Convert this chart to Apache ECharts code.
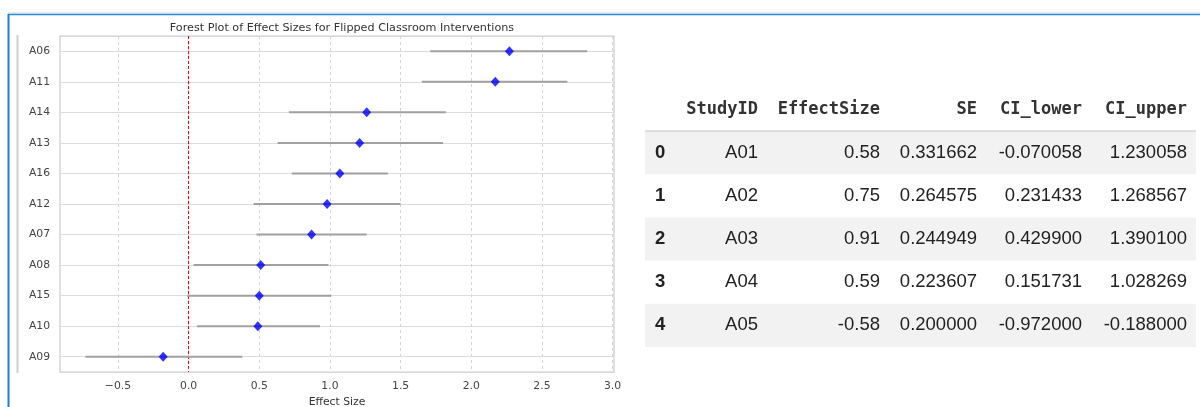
<!DOCTYPE html>
<html>
<head>
<meta charset="utf-8">
<script src="https://cdn.jsdelivr.net/npm/echarts@6/dist/echarts.min.js"></script>
<style>
  html, body { margin: 0; padding: 0; background: #fff; }
  #chart { width: 1200px; height: 407px; }
</style>
</head>
<body>
<div id="chart"></div>
<script>
// forest plot data (top to bottom)
const studyIds = ['A06', 'A11', 'A14', 'A13', 'A16', 'A12', 'A07', 'A08', 'A15', 'A10', 'A09']
const effectSizes = [2.27, 2.17, 1.26, 1.21, 1.07, 0.98, 0.87, 0.51, 0.50, 0.49, -0.18]
const ciLower = [1.71, 1.65, 0.71, 0.63, 0.73, 0.46, 0.48, 0.035, -0.01, 0.06, -0.73]
const ciUpper = [2.82, 2.68, 1.82, 1.80, 1.41, 1.50, 1.26, 0.99, 1.01, 0.93, 0.38]
const xTicks = [-0.5, 0.0, 0.5, 1.0, 1.5, 2.0, 2.5, 3.0]

// dataframe head shown next to the plot
const tableColumns = ['StudyID', 'EffectSize', 'SE', 'CI_lower', 'CI_upper']
const tableIndex = [0, 1, 2, 3, 4]
const tableStudy = ['A01', 'A02', 'A03', 'A04', 'A05']
const tableEffect = [0.58, 0.75, 0.91, 0.59, -0.58]
const tableSE = [0.331662, 0.264575, 0.244949, 0.223607, 0.200000]
const tableLower = [-0.070058, 0.231433, 0.429900, 0.151731, -0.972000]
const tableUpper = [1.230058, 1.268567, 1.390100, 1.028269, -0.188000]

const chart = echarts.init(document.getElementById('chart'))

const fmtTick = v => v.toFixed(1).replace('-', '\u2212')

// table graphics
const tableLeft = 645
const tableRight = 1196
const headerY = 110
const ruleY = 131
const rowH = 43.2
const colRight = [758, 880, 977, 1082, 1187]
const bodyFont = '18.5px "Liberation Sans", Arial, sans-serif'
const tableGraphic = []
tableIndex.forEach((idx, i) => {
  if (i % 2 === 0) {
    tableGraphic.push({
      type: 'rect',
      shape: { x: tableLeft, y: ruleY + i * rowH, width: tableRight - tableLeft, height: rowH },
      style: { fill: '#f2f2f2' },
      silent: true
    })
  }
})
tableGraphic.push({
  type: 'line',
  shape: { x1: tableLeft, y1: ruleY, x2: tableRight, y2: ruleY },
  style: { stroke: '#c4c4c4', lineWidth: 1.2 },
  silent: true
})
tableColumns.forEach((name, c) => {
  tableGraphic.push({
    type: 'text',
    style: {
      text: name, x: colRight[c], y: headerY,
      align: 'right', verticalAlign: 'middle',
      font: 'bold 17px "DejaVu Sans Mono", monospace', fill: '#333'
    },
    silent: true
  })
})
tableIndex.forEach((idx, i) => {
  const cy = 153 + i * 43
  const cells = [
    tableStudy[i],
    tableEffect[i].toFixed(2),
    tableSE[i].toFixed(6),
    tableLower[i].toFixed(6),
    tableUpper[i].toFixed(6)
  ]
  tableGraphic.push({
    type: 'text',
    style: {
      text: String(idx), x: 655, y: cy, align: 'left', verticalAlign: 'middle',
      font: 'bold ' + bodyFont, fill: '#222'
    },
    silent: true
  })
  cells.forEach((txt, c) => {
    tableGraphic.push({
      type: 'text',
      style: {
        text: txt, x: colRight[c], y: cy, align: 'right', verticalAlign: 'middle',
        font: bodyFont, fill: '#222'
      },
      silent: true
    })
  })
})

// notebook cell frame
const frameGraphic = [
  { type: 'line', shape: { x1: 8, y1: 13, x2: 1200, y2: 13 }, style: { stroke: '#d8d8d8', lineWidth: 1 }, silent: true },
  { type: 'line', shape: { x1: 8, y1: 14.5, x2: 1200, y2: 14.5 }, style: { stroke: '#2a8bd8', lineWidth: 1.5 }, silent: true },
  { type: 'line', shape: { x1: 8.5, y1: 14, x2: 8.5, y2: 407 }, style: { stroke: '#1d7fd6', lineWidth: 2 }, silent: true },
  { type: 'line', shape: { x1: 17.5, y1: 35, x2: 17.5, y2: 373 }, style: { stroke: '#cfcfcf', lineWidth: 2 }, silent: true }
]

const gridLines = []
xTicks.forEach(v => {
  gridLines.push({
    xAxis: v,
    lineStyle: { color: '#d4d4d4', width: 1, type: [3, 3] }
  })
})
studyIds.forEach(s => {
  gridLines.push({
    yAxis: s,
    lineStyle: { color: '#dcdcdc', width: 1.2, type: 'solid' }
  })
})
gridLines.push({
  xAxis: 0,
  lineStyle: { color: '#ff0000', width: 1, type: [3, 2] }
})

const labelFont = { fontFamily: 'DejaVu Sans', fontSize: 10.8, color: '#444' }

const option = {
  animation: false,
  backgroundColor: '#fff',
  title: {
    text: 'Forest Plot of Effect Sizes for Flipped Classroom Interventions',
    left: 337,
    top: 18,
    textAlign: 'center',
    textStyle: { fontFamily: 'DejaVu Sans', fontSize: 11.2, fontWeight: 'normal', color: '#333' }
  },
  grid: {
    left: 60,
    top: 36,
    right: 586,
    bottom: 35,
    containLabel: false,
    outerBoundsMode: 'none',
    show: true,
    borderColor: '#cccccc',
    borderWidth: 1.25,
    backgroundColor: '#fff'
  },
  xAxis: {
    type: 'value',
    min: -0.91,
    max: 3.01,
    name: 'Effect Size',
    nameLocation: 'middle',
    nameGap: 24,
    nameTextStyle: { fontFamily: 'DejaVu Sans', fontSize: 10.8, color: '#333' },
    axisLine: { show: false },
    axisTick: { show: false },
    splitLine: { show: false },
    axisLabel: Object.assign({ customValues: xTicks, formatter: fmtTick, margin: 9 }, labelFont)
  },
  yAxis: {
    type: 'category',
    data: studyIds,
    inverse: true,
    axisLine: { show: false },
    axisTick: { show: false },
    splitLine: { show: false },
    axisLabel: Object.assign({ margin: 10 }, labelFont)
  },
  graphic: frameGraphic.concat(tableGraphic),
  series: [
    {
      type: 'scatter',
      data: [],
      z: 1,
      silent: true,
      markLine: {
        z: 1,
        silent: true,
        symbol: 'none',
        label: { show: false },
        data: gridLines
      }
    },
    {
      type: 'custom',
      z: 2,
      silent: true,
      data: studyIds.map((s, i) => [ciLower[i], ciUpper[i], i]),
      encode: { x: [0, 1], y: 2 },
      renderItem: (params, api) => {
        const p1 = api.coord([api.value(0), api.value(2)])
        const p2 = api.coord([api.value(1), api.value(2)])
        return {
          type: 'line',
          shape: { x1: p1[0], y1: p1[1], x2: p2[0], y2: p2[1] },
          style: { stroke: '#a0a0a0', lineWidth: 2 }
        }
      }
    },
    {
      type: 'scatter',
      z: 3,
      symbol: 'diamond',
      symbolSize: [9, 10],
      itemStyle: { color: '#0000ff' },
      data: studyIds.map((s, i) => [effectSizes[i], i])
    }
  ]
}

chart.setOption(option)
</script>
</body>
</html>
